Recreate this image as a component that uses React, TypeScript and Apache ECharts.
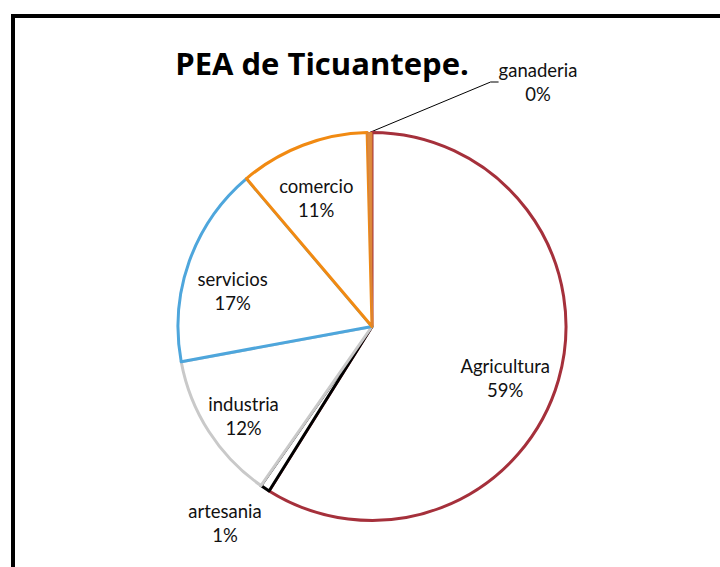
import React, { useEffect, useRef } from "react";
import * as echarts from "echarts";

const TITLE = "PEA de Ticuantepe.";
const categories = ["Agricultura", "artesania", "industria", "servicios", "comercio", "ganaderia"];
const values = [58.9, 0.8, 12.4, 16.7, 10.8, 0.4];
const borderColors = ["#A5303B", "#000000", "#C9C9C9", "#4EA6DC", "#F18A12", "#D98236"];
const fillColors = ["#FFFFFF", "#FFFFFF", "#FFFFFF", "#FFFFFF", "#FFFFFF", "#DE8B3E"];
const outsideLabels = ["artesania", "ganaderia"];

const FONT = "Lato, 'Noto Sans', sans-serif";
const TITLE_FONT = "'Open Sans', Lato, sans-serif";
const CENTER = [372, 326.5];
const R = 194;

export default function App() {
  const ref = useRef<HTMLDivElement>(null);
  useEffect(() => {
    if (!ref.current) return;
    const chart = echarts.init(ref.current, null, { renderer: "svg" });

    const mainData = categories.map((name, i) => {
      const outside = outsideLabels.includes(name);
      return {
        name,
        value: values[i],
        itemStyle: {
          color: fillColors[i],
          borderColor: borderColors[i],
          borderWidth: name === "ganaderia" ? 1 : 3,
        },
        label: { show: outside },
        labelLine: {
          show: name === "ganaderia",
          length: 10,
          length2: 8,
          lineStyle: { color: "#000", width: 1 },
        },
      };
    });

    const labelData = categories.map((name, i) => ({
      name,
      value: values[i],
      label: { show: !outsideLabels.includes(name) },
    }));

    chart.setOption({
      animation: false,
      backgroundColor: "#ffffff",
      graphic: [
        {
          type: "rect",
          shape: { x: 13, y: 16, width: 800, height: 700 },
          style: { fill: "none", stroke: "#000", lineWidth: 4 },
          z: 0,
        },
        {
          type: "text",
          x: 322,
          y: 63,
          style: {
            text: TITLE,
            fill: "#000",
            font: `bold 31px ${TITLE_FONT}`,
            textAlign: "center",
            textVerticalAlign: "middle",
          },
          z: 10,
        },
      ],
      series: [
        {
          type: "pie",
          name: "labels",
          silent: true,
          center: CENTER,
          radius: [96, R],
          startAngle: 90,
          clockwise: true,
          avoidLabelOverlap: false,
          percentPrecision: 0,
          itemStyle: { color: "rgba(0,0,0,0)", borderWidth: 0 },
          label: {
            position: "inside",
            formatter: "{b}\n{d}%",
            color: "#111",
            fontFamily: FONT,
            fontSize: 18.5,
            lineHeight: 24,
          },
          labelLayout: (p: any) => {
            const name = categories[p.dataIndex];
            if (name === "Agricultura") return { dx: -9, dy: 11 };
            if (name === "servicios") return { dy: 14 };
            if (name === "comercio") return { dx: -3, dy: 10 };
            if (name === "industria") return { dx: -4, dy: 9 };
            return { dy: 10 };
          },
          labelLine: { show: false },
          data: labelData,
          z: 3,
        },
        {
          type: "pie",
          name: "PEA",
          silent: true,
          center: CENTER,
          radius: [0, R],
          startAngle: 90,
          clockwise: true,
          avoidLabelOverlap: false,
          percentPrecision: 0,
          label: {
            position: "outside",
            formatter: "{b}\n{d}%",
            color: "#111",
            fontFamily: FONT,
            fontSize: 18.5,
            lineHeight: 24,
          },
          labelLayout: (p: any) => {
            const name = categories[p.dataIndex];
            if (name === "ganaderia") {
              return { x: 538, y: 82, align: "center", verticalAlign: "middle" };
            }
            if (name === "artesania") {
              return { x: 225, y: 523, align: "center", verticalAlign: "middle" };
            }
            return {};
          },
          data: mainData,
          z: 2,
        },
      ],
    });
    return () => chart.dispose();
  }, []);

  return (
    <div
      ref={ref}
      style={{ position: "fixed", left: 0, top: 0, width: 720, height: 567, background: "#fff" }}
    />
  );
}
